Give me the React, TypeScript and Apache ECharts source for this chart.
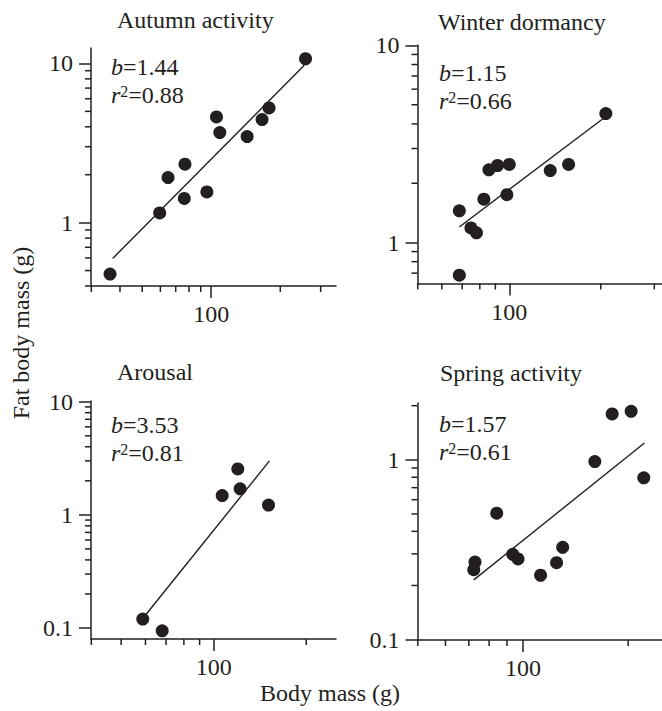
import React, { useEffect, useRef } from 'react';
import * as echarts from 'echarts';

// ---------- data ----------
const panelTitles = ['Autumn activity', 'Winter dormancy', 'Arousal', 'Spring activity'];
const slopeLabels = ['1.44', '1.15', '3.53', '1.57'];
const r2Labels = ['0.88', '0.66', '0.81', '0.61'];
const xAxisName = 'Body mass (g)';
const yAxisName = 'Fat body mass (g)';

const autumnMass = [36.2, 59.6, 64.8, 76.8, 76.3, 95.7, 105.4, 109, 143.4, 166.6, 178.7, 257.8];
const autumnFat = [0.475, 1.15, 1.92, 2.33, 1.42, 1.56, 4.61, 3.68, 3.47, 4.44, 5.25, 10.7];
const autumnFitMass = [37.2, 254.5];
const autumnFitFat = [0.596, 9.73];

const winterMass = [68.5, 68.5, 74.8, 78.0, 82.5, 85.7, 91.5, 98.2, 100, 136.4, 156.7, 207.8];
const winterFat = [1.45, 0.683, 1.186, 1.12, 1.66, 2.34, 2.46, 1.75, 2.49, 2.32, 2.49, 4.51];
const winterFitMass = [68.5, 205.3];
const winterFitFat = [1.2, 4.3];

const arousalMass = [58.8, 68.0, 106.6, 119.8, 121.9, 150.8];
const arousalFat = [0.12, 0.0946, 1.48, 2.55, 1.7, 1.22];
const arousalFitMass = [59.5, 151.9];
const arousalFitFat = [0.1266, 3.0];

const springMass = [72.9, 72.3, 84.1, 93.5, 96.8, 112.3, 124.8, 129.9, 160.6, 180.0, 204.0, 221.7];
const springFat = [0.27, 0.245, 0.505, 0.298, 0.281, 0.228, 0.268, 0.326, 0.978, 1.8, 1.86, 0.794];
const springFitMass = [72.3, 222.7];
const springFitFat = [0.215, 1.24];

// axis extents and ticks
const xMin = [29.9, 49.9, 39.9, 49.9];
const xMax = [350, 318, 250, 250];
const yMin = [0.4, 0.62, 0.08, 0.0995];
const yMax = [12.5, 10.05, 10.15, 2.07];
const xMajorTicks = [100];
const yMajorTicks = [0.1, 1, 10];
const xMinorTicks = [30, 40, 50, 60, 70, 80, 90, 200, 300];
const yMinorTicks = [0.2, 0.3, 0.4, 0.5, 0.6, 0.7, 0.8, 0.9, 2, 3, 4, 5, 6, 7, 8, 9];

const panelMass = [autumnMass, winterMass, arousalMass, springMass];
const panelFat = [autumnFat, winterFat, arousalFat, springFat];
const panelFitMass = [autumnFitMass, winterFitMass, arousalFitMass, springFitMass];
const panelFitFat = [autumnFitFat, winterFitFat, arousalFitFat, springFitFat];

// ---------- layout ----------
const FONT = '"Liberation Serif", "Times New Roman", Times, serif';
const INK = '#231f20';
const FS = 24;
const MINOR_LEN = 6;

const grids = [
  { left: 91, top: 48, width: 245, height: 238 },
  { left: 417.5, top: 45, width: 244.5, height: 238.5 },
  { left: 91, top: 401, width: 245, height: 238 },
  { left: 417.5, top: 403, width: 244.5, height: 237 },
];
const titlePos = [
  [117, 20],
  [438, 22],
  [117, 372],
  [440, 373],
];
const notePos = [
  [111, 67],
  [439, 73],
  [111, 425],
  [439, 424],
];
const noteGap = 28;

const fmt = (v: number) => String(+Number(v).toPrecision(6));

function buildTexts() {
  const graphic: any[] = [];
  const rich = {
    it: { fontStyle: 'italic', fontSize: FS, fontFamily: FONT, fill: INK, color: INK },
    n: { fontSize: FS, fontFamily: FONT, fill: INK, color: INK },
    sup: { fontSize: 16, fontFamily: FONT, fill: INK, color: INK, verticalAlign: 'top' },
  };
  grids.forEach((g, i) => {
    graphic.push({
      type: 'text', x: titlePos[i][0], y: titlePos[i][1],
      style: { text: panelTitles[i], fontSize: FS, fontFamily: FONT, fill: INK, textAlign: 'left', textVerticalAlign: 'middle' },
    });
    graphic.push({
      type: 'text', x: notePos[i][0], y: notePos[i][1],
      style: { text: '{it|b}{n|=' + slopeLabels[i] + '}', rich, fontSize: FS, fontFamily: FONT, fill: INK, textAlign: 'left', textVerticalAlign: 'middle' },
    });
    graphic.push({
      type: 'text', x: notePos[i][0], y: notePos[i][1] + noteGap,
      style: { text: '{it|r}{sup|2}{n|=' + r2Labels[i] + '}', rich, fontSize: FS, fontFamily: FONT, fill: INK, textAlign: 'left', textVerticalAlign: 'middle' },
    });
  });
  graphic.push({
    type: 'text', x: 21, y: 333, rotation: Math.PI / 2,
    style: { text: yAxisName, fontSize: FS, fontFamily: FONT, fill: INK, textAlign: 'center', textVerticalAlign: 'middle' },
  });
  graphic.push({
    type: 'text', x: 330, y: 693,
    style: { text: xAxisName, fontSize: FS, fontFamily: FONT, fill: INK, textAlign: 'center', textVerticalAlign: 'middle' },
  });
  return graphic;
}

function buildOption() {
  const xAxes: any[] = [];
  const yAxes: any[] = [];
  const series: any[] = [];
  const lineStyle = { color: INK, width: 1.5 };

  grids.forEach((g, i) => {
    const common = {
      type: 'log', logBase: 10, gridIndex: i, splitLine: { show: false }, minorTick: { show: false },
      minorSplitLine: { show: false }, silent: true,
      axisLine: { show: true, onZero: false, lineStyle },
    };
    xAxes.push({
      ...common, min: xMin[i], max: xMax[i], position: 'bottom',
      axisTick: { show: true, length: 12, customValues: xMajorTicks, lineStyle },
      axisLabel: { show: true, customValues: xMajorTicks, margin: 16, fontSize: FS, fontFamily: FONT, color: INK, formatter: fmt },
    });
    yAxes.push({
      ...common, min: yMin[i], max: yMax[i], position: 'left',
      axisTick: { show: true, length: 12, customValues: yMajorTicks, lineStyle },
      axisLabel: { show: true, customValues: yMajorTicks, margin: 18, fontSize: FS, fontFamily: FONT, color: INK, formatter: fmt },
    });

    series.push({
      type: 'scatter', xAxisIndex: i, yAxisIndex: i,
      data: panelMass[i].map((m, k) => [m, panelFat[i][k]]),
      symbol: 'circle', symbolSize: 13,
      itemStyle: { color: INK, opacity: 1 },
    });
    series.push({
      type: 'line', xAxisIndex: i, yAxisIndex: i,
      data: panelFitMass[i].map((m, k) => [m, panelFitFat[i][k]]),
      showSymbol: false, symbol: 'none',
      lineStyle: { color: INK, width: 1.4 },
    });
  });

  return {
    animation: false,
    backgroundColor: '#ffffff',
    grid: grids.map((g) => ({ ...g, containLabel: false, outerBoundsMode: 'none' })),
    xAxis: xAxes,
    yAxis: yAxes,
    series,
  };
}

const finite = (p: any) => Array.isArray(p) && isFinite(p[0]) && isFinite(p[1]);

// pixel position of a data point through the chart's own log scales
function toPx(chart: any, i: number, x: number, y: number): number[] | null {
  const tries: Array<() => any> = [
    () => chart.convertToPixel({ seriesIndex: 2 * i }, [x, y]),
    () => chart.convertToPixel({ xAxisIndex: i, yAxisIndex: i }, [x, y]),
    () => chart.convertToPixel({ gridIndex: i }, [x, y]),
    () => [chart.convertToPixel({ xAxisIndex: i }, x), chart.convertToPixel({ yAxisIndex: i }, y)],
  ];
  for (const t of tries) {
    try {
      const p = t();
      if (finite(p)) return [Number(p[0]), Number(p[1])];
    } catch (e) {
      // try the next finder
    }
  }
  return null;
}

function buildMinorTicks(chart: any) {
  const els: any[] = [];
  grids.forEach((g, i) => {
    xMinorTicks.forEach((v) => {
      if (v < xMin[i] || v > xMax[i]) return;
      const p = toPx(chart, i, v, yMin[i]);
      if (!p) return;
      els.push({
        type: 'line',
        shape: { x1: p[0], y1: p[1], x2: p[0], y2: p[1] + MINOR_LEN },
        style: { stroke: INK, lineWidth: 1.5 },
      });
    });
    yMinorTicks.forEach((v) => {
      if (v < yMin[i] || v > yMax[i]) return;
      const p = toPx(chart, i, xMin[i], v);
      if (!p) return;
      els.push({
        type: 'line',
        shape: { x1: p[0] - MINOR_LEN, y1: p[1], x2: p[0], y2: p[1] },
        style: { stroke: INK, lineWidth: 1.5 },
      });
    });
  });
  return els;
}

export default function App() {
  const ref = useRef<HTMLDivElement>(null);
  useEffect(() => {
    if (!ref.current) return;
    const chart = echarts.init(ref.current, null, { renderer: 'svg' });
    chart.setOption(buildOption() as any);
    let ticks: any[] = [];
    try {
      ticks = buildMinorTicks(chart);
    } catch (e) {
      ticks = [];
    }
    chart.setOption({ graphic: { elements: [...buildTexts(), ...ticks] } } as any);
    return () => chart.dispose();
  }, []);
  return (
    <div
      ref={ref}
      style={{ position: 'fixed', left: 0, top: 0, width: 662, height: 711, background: '#fff' }}
    />
  );
}
